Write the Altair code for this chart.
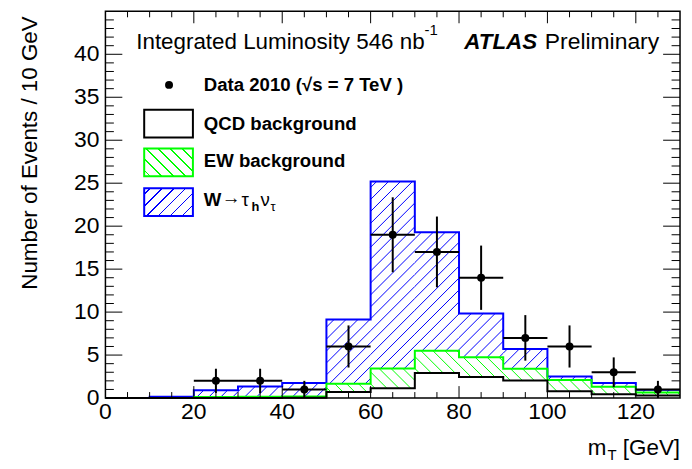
import math
import altair as alt
import numpy as np
import pandas as pd

# ---------------- data ----------------
bin_lo = [0, 10, 20, 30, 40, 50, 60, 70, 80, 90, 100, 110, 120]
qcd    = [0, 0, 0, 0, 0.03, 0.7, 1.15, 2.9, 2.45, 2.05, 0.8, 0.45, 0.3]
ew     = [0, 0, 0.12, 0.15, 0.15, 0.95, 2.3, 2.6, 2.3, 1.35, 1.3, 0.85, 0.35]
wtau   = [0, 0.15, 0.78, 1.2, 1.57, 7.5, 21.75, 13.8, 5.1, 2.3, 0.4, 0.45, 0.3]

data_x   = [25, 35, 45, 55, 65, 75, 85, 95, 105, 115, 125]
data_n   = [2, 2, 1, 6, 19, 17, 14, 7, 6, 3, 1]
data_err = [1.41, 1.41, 1.0, 2.45, 4.36, 4.12, 3.74, 2.65, 2.45, 1.73, 1.0]

x_labels = [0, 20, 40, 60, 80, 100, 120]
y_labels = [0, 5, 10, 15, 20, 25, 30, 35, 40]

# ---------------- layout ----------------
PLOT_W, PLOT_H = 578, 389
X_MAX, Y_MAX = 130, 45
BIN_W = 10
FONT = "Liberation Sans"
BLUE, GREEN = "#0000ff", "#00ff00"
SPACING, LW = 12.0, 1.5

xs = alt.Scale(domain=[0, X_MAX], nice=False, zero=False)
ys = alt.Scale(domain=[0, Y_MAX], nice=False, zero=False)

c1 = np.array(qcd)
c2 = c1 + np.array(ew)
c3 = c2 + np.array(wtau)


def xpx(v):
    return v * PLOT_W / X_MAX


def ypx(v):
    return v * PLOT_H / Y_MAX


def hist_df(vals):
    return pd.DataFrame({"x": list(bin_lo) + [X_MAX], "v": list(vals) + [vals[-1]]})


def hatch_segments(lo_vals, hi_vals, direction):
    """Hatch lines (ROOT style) filling the band between two stacked histograms."""
    rows = []
    for xl, lo, hi in zip(bin_lo, lo_vals, hi_vals):
        if hi - lo < 0.05:
            continue
        X0, X1 = xpx(xl), xpx(xl + BIN_W)
        Yt, Yb = PLOT_H - ypx(hi), PLOT_H - ypx(lo)
        if direction == "/":
            cmin, cmax = X0 + Yt, X1 + Yb
        else:
            cmin, cmax = X0 - Yb, X1 - Yt
        for k in range(math.ceil(cmin / SPACING), math.floor(cmax / SPACING) + 1):
            c = k * SPACING
            if direction == "/":
                a, b = max(X0, c - Yb), min(X1, c - Yt)
                ya, yb = c - a, c - b
            else:
                a, b = max(X0, c + Yt), min(X1, c + Yb)
                ya, yb = a - c, b - c
            if b - a < 0.3:
                continue
            rows.append({"x1": a * X_MAX / PLOT_W, "x2": b * X_MAX / PLOT_W,
                         "y1": (PLOT_H - ya) * Y_MAX / PLOT_H,
                         "y2": (PLOT_H - yb) * Y_MAX / PLOT_H})
    return pd.DataFrame(rows)


def hatch_layer(lo_vals, hi_vals, color, direction):
    return alt.Chart(hatch_segments(lo_vals, hi_vals, direction)).mark_rule(
        color=color, strokeWidth=1).encode(
        x=alt.X("x1:Q", scale=xs, axis=None), x2="x2:Q",
        y=alt.Y("y1:Q", scale=ys, axis=None), y2="y2:Q")


def hatch(W, H, color, direction="/"):
    """Linear-gradient stripes for the small legend boxes."""
    L = W + H
    stops = []
    s = SPACING / 2
    while s < L:
        a, b = (s - LW / 2) / L, min(1.0, (s + LW / 2) / L)
        stops += [{"offset": a, "color": "white"}, {"offset": a, "color": color},
                  {"offset": b, "color": color}, {"offset": b, "color": "white"}]
        s += SPACING
    kk = W * (W + H) / (W * W + H * H)
    if direction == "/":
        x1, y1, x2, y2 = 0, 0, kk, kk * H / W
    else:
        x1, y1, x2, y2 = 0, 1, kk, 1 - kk * H / W
    return {"gradient": "linear", "x1": x1, "y1": y1, "x2": x2, "y2": y2, "stops": stops}


def line_layer(vals, color):
    return alt.Chart(hist_df(vals)).mark_line(
        interpolate="step-after", color=color, strokeWidth=2).encode(
        x=alt.X("x:Q", scale=xs, axis=None),
        y=alt.Y("v:Q", scale=ys, axis=None))


layers = [
    hatch_layer(c2, c3, BLUE, "/"),
    hatch_layer(c1, c2, GREEN, "\\"),
    line_layer(c3, BLUE),
    line_layer(c2, GREEN),
    line_layer(c1, "black"),
]

# ---------------- data points ----------------
pts = pd.DataFrame({"x": data_x, "n": data_n, "e": data_err})
pts["lo"] = pts["n"] - pts["e"]
pts["hi"] = pts["n"] + pts["e"]
pts["xl"] = pts["x"] - BIN_W / 2
pts["xh"] = pts["x"] + BIN_W / 2

layers.append(alt.Chart(pts).mark_rule(color="black", strokeWidth=2).encode(
    x=alt.X("x:Q", scale=xs, axis=None),
    y=alt.Y("lo:Q", scale=ys, axis=None), y2="hi:Q"))
layers.append(alt.Chart(pts).mark_rule(color="black", strokeWidth=2).encode(
    x=alt.X("xl:Q", scale=xs, axis=None), x2="xh:Q",
    y=alt.Y("n:Q", scale=ys, axis=None)))
layers.append(alt.Chart(pts).mark_point(filled=True, color="black", size=64, opacity=1).encode(
    x=alt.X("x:Q", scale=xs, axis=None),
    y=alt.Y("n:Q", scale=ys, axis=None)))

# ---------------- ticks (inside, all four sides) ----------------
x_major = [20, 40, 60, 80, 100, 120]
x_minor = [v for v in range(5, 130, 5) if v % 20 != 0]
y_major = [5, 10, 15, 20, 25, 30, 35, 40]
y_minor = [v for v in range(1, 45) if v % 5 != 0]


def xticks(vals, length):
    d = pd.DataFrame({"t": vals})
    bot = alt.Chart(d).mark_rule(color="black", strokeWidth=1).encode(
        x=alt.X("t:Q", scale=xs, axis=None),
        y=alt.value(PLOT_H), y2=alt.value(PLOT_H - length))
    top = alt.Chart(d).mark_rule(color="black", strokeWidth=1).encode(
        x=alt.X("t:Q", scale=xs, axis=None),
        y=alt.value(0), y2=alt.value(length))
    return [bot, top]


def yticks(vals, length):
    d = pd.DataFrame({"t": vals})
    left = alt.Chart(d).mark_rule(color="black", strokeWidth=1).encode(
        y=alt.Y("t:Q", scale=ys, axis=None),
        x=alt.value(0), x2=alt.value(length))
    right = alt.Chart(d).mark_rule(color="black", strokeWidth=1).encode(
        y=alt.Y("t:Q", scale=ys, axis=None),
        x=alt.value(PLOT_W), x2=alt.value(PLOT_W - length))
    return [left, right]


layers += xticks(x_major, 12) + xticks(x_minor, 6)
layers += yticks(y_major, 17) + yticks(y_minor, 8.5)

# tick labels
layers.append(alt.Chart(pd.DataFrame({"t": x_labels})).mark_text(
    font=FONT, fontSize=23, color="black", align="center", baseline="alphabetic").encode(
    x=alt.X("t:Q", scale=xs, axis=None), y=alt.value(PLOT_H + 21), text="t:Q"))
layers.append(alt.Chart(pd.DataFrame({"t": y_labels})).mark_text(
    font=FONT, fontSize=23, color="black", align="right", baseline="middle").encode(
    y=alt.Y("t:Q", scale=ys, axis=None), x=alt.value(-6), text="t:Q"))

one = alt.Data(values=[{"a": 1}])

# frame
layers.append(alt.Chart(one).mark_rect(fill=None, stroke="black", strokeWidth=1.5).encode(
    x=alt.value(0), x2=alt.value(PLOT_W), y=alt.value(0), y2=alt.value(PLOT_H)))


def txt(s, x, y, size=18.7, weight="normal", style="normal", align="left",
        baseline="alphabetic", angle=0):
    kw = dict(align=align, baseline=baseline, font=FONT, fontSize=size,
              fontWeight=weight, fontStyle=style, color="black")
    if angle:
        kw["angle"] = angle
    return alt.Chart(one).mark_text(**kw).encode(
        x=alt.value(x), y=alt.value(y), text=alt.value(s))


# header
layers.append(txt("Integrated Luminosity 546 nb", 31, 38, size=22.5))
layers.append(txt("-1", 321, 24, size=15))
layers.append(txt("ATLAS", 361, 38, size=22.5, weight="bold", style="italic"))
layers.append(txt("Preliminary", 442, 38, size=23))

# legend
layers.append(alt.Chart(one).mark_point(filled=True, color="black", size=64, opacity=1).encode(
    x=alt.value(64), y=alt.value(74)))
layers.append(txt("Data 2010 (\u221as = 7 TeV )", 99, 80, weight="bold"))

BOX_X, BOX_W, BOX_H = 39, 49, 28
layers.append(alt.Chart(one).mark_rect(fill="white", stroke="black", strokeWidth=2).encode(
    x=alt.value(BOX_X), x2=alt.value(BOX_X + BOX_W), y=alt.value(99), y2=alt.value(99 + BOX_H)))
layers.append(txt("QCD background", 99, 119, weight="bold"))

layers.append(alt.Chart(one).mark_rect(
    fill=hatch(BOX_W, BOX_H, GREEN, "\\"), stroke=GREEN, strokeWidth=2).encode(
    x=alt.value(BOX_X), x2=alt.value(BOX_X + BOX_W), y=alt.value(138), y2=alt.value(138 + BOX_H)))
layers.append(txt("EW background", 99, 157, weight="bold"))

layers.append(alt.Chart(one).mark_rect(
    fill=hatch(BOX_W, BOX_H, BLUE, "/"), stroke=BLUE, strokeWidth=2).encode(
    x=alt.value(BOX_X), x2=alt.value(BOX_X + BOX_W), y=alt.value(178), y2=alt.value(178 + BOX_H)))
layers.append(txt("W", 99, 196, weight="bold"))
layers.append(txt("\u2192", 117, 194, size=19))
layers.append(txt("\u03c4", 137, 196))
layers.append(txt("h", 147, 201, size=13, weight="bold"))
layers.append(txt("\u03bd", 156, 196))
layers.append(txt("\u03c4", 166, 201, size=13))

# axis titles
layers.append(txt("Number of Events / 10 GeV", -76, 5, size=22.5, align="right",
                  baseline="middle", angle=270))
layers.append(txt("[GeV]", 578, 446, size=22.5, align="right"))
layers.append(txt("m", 504, 446, size=22.5, align="right"))
layers.append(txt("T", 505, 451, size=15))

chart = alt.layer(*layers).properties(
    width=PLOT_W, height=PLOT_H,
    autosize=alt.AutoSizeParams(type="none"),
    padding={"left": 98, "top": 2, "right": 4, "bottom": 64},
    background="white",
).configure_view(stroke=None)

chart.save("out.html", embed_options={"renderer": "svg", "actions": False})
